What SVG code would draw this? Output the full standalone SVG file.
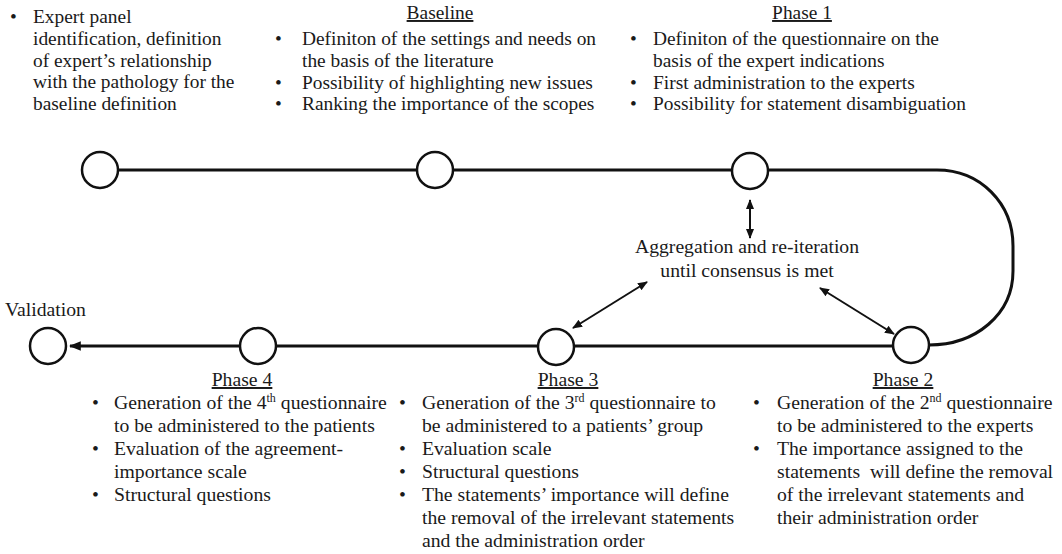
<svg xmlns="http://www.w3.org/2000/svg" width="1062" height="554" viewBox="0 0 1062 554" font-family="'Liberation Serif', 'Times New Roman', serif">
  <style>
    text { font-family: "Liberation Serif", "Times New Roman", serif; font-size: 19.4px; fill: #1a1a1a; }
    .lo text { font-size: 19.7px; }
    .head { text-anchor: middle; text-decoration: underline; }
    .mid { text-anchor: middle; }
    .node { fill: #ffffff; stroke: #111111; stroke-width: 2.5; }
    .path { fill: none; stroke: #111111; stroke-width: 3; }
    .dbl { fill: none; stroke: #111111; stroke-width: 2; }
    .sup { font-size: 12px; }
  </style>
  <defs>
    <marker id="tip" viewBox="0 0 10 10" refX="9" refY="5" markerWidth="5" markerHeight="5" orient="auto-start-reverse" markerUnits="strokeWidth">
      <path d="M0,1 L10,5 L0,9 Z" fill="#111111"/>
    </marker>
    <marker id="tipBig" viewBox="0 0 10 10" refX="9" refY="5" markerWidth="4" markerHeight="4" orient="auto" markerUnits="strokeWidth">
      <path d="M0,1 L10,5 L0,9 Z" fill="#111111"/>
    </marker>
  </defs>

  <!-- connectors -->
  <g id="connectors">
    <path class="path" d="M118 170 H416"/>
    <path class="path" d="M453 170 H731"/>
    <path class="path" d="M769 170 H937 C980 170 1013 203 1013 246 V271 C1013 315 975 345 929 345"/>
    <path class="path" d="M893 346 H575"/>
    <path class="path" d="M537 346 H277"/>
    <path class="path" d="M240 346 H70" marker-end="url(#tipBig)"/>
    <path class="dbl" d="M750 200 V238" marker-start="url(#tip)" marker-end="url(#tip)"/>
    <path class="dbl" d="M573 328 L647 282" marker-start="url(#tip)" marker-end="url(#tip)"/>
    <path class="dbl" d="M820 288 L894 334" marker-start="url(#tip)" marker-end="url(#tip)"/>
  </g>

  <!-- start: expert panel -->
  <g id="node-start">
    <circle class="node" cx="100" cy="170" r="18"/>
    <text x="10" y="23">•</text>
    <text x="33" y="23">Expert panel</text>
    <text x="33" y="45">identification, definition</text>
    <text x="33" y="67">of expert’s relationship</text>
    <text x="33" y="88">with the pathology for the</text>
    <text x="33" y="110">baseline definition</text>
  </g>

  <!-- baseline -->
  <g id="node-baseline">
    <circle class="node" cx="435" cy="170" r="18"/>
    <text class="head" x="440" y="19">Baseline</text>
    <text x="275" y="45">•</text>
    <text x="302" y="45">Definiton of the settings and needs on</text>
    <text x="302" y="67">the basis of the literature</text>
    <text x="275" y="89">•</text>
    <text x="302" y="89">Possibility of highlighting new issues</text>
    <text x="275" y="110">•</text>
    <text x="302" y="110">Ranking the importance of the scopes</text>
  </g>

  <!-- phase 1 -->
  <g id="node-phase1">
    <circle class="node" cx="750" cy="171" r="18"/>
    <text class="head" x="802" y="19">Phase 1</text>
    <text x="630" y="45">•</text>
    <text x="653" y="45">Definiton of the questionnaire on the</text>
    <text x="653" y="67">basis of the expert indications</text>
    <text x="630" y="89">•</text>
    <text x="653" y="89">First administration to the experts</text>
    <text x="630" y="110">•</text>
    <text x="653" y="110">Possibility for statement disambiguation</text>
  </g>

  <g class="lo">
    <!-- aggregation -->
    <g id="node-aggregation">
      <text class="mid" x="747" y="253">Aggregation and re-iteration</text>
      <text class="mid" x="747" y="277">until consensus is met</text>
    </g>

    <!-- phase 2 -->
    <g id="node-phase2">
      <circle class="node" cx="911" cy="345" r="18"/>
      <text class="head" x="903" y="386">Phase 2</text>
      <text x="753" y="409">•</text>
      <text x="777" y="409">Generation of the 2<tspan class="sup" dy="-7">nd</tspan><tspan dy="7"> questionnaire</tspan></text>
      <text x="777" y="432">to be administered to the experts</text>
      <text x="753" y="455">•</text>
      <text x="777" y="455">The importance assigned to the</text>
      <text x="777" y="478" xml:space="preserve">statements  will define the removal</text>
      <text x="777" y="501">of the irrelevant statements and</text>
      <text x="777" y="524">their administration order</text>
    </g>

    <!-- phase 3 -->
    <g id="node-phase3">
      <circle class="node" cx="556" cy="347" r="18"/>
      <text class="head" x="568" y="386">Phase 3</text>
      <text x="399" y="409">•</text>
      <text x="422" y="409">Generation of the 3<tspan class="sup" dy="-7">rd</tspan><tspan dy="7"> questionnaire to</tspan></text>
      <text x="422" y="432">be administered to a patients’ group</text>
      <text x="399" y="455">•</text>
      <text x="422" y="455">Evaluation scale</text>
      <text x="399" y="478">•</text>
      <text x="422" y="478">Structural questions</text>
      <text x="399" y="501">•</text>
      <text x="422" y="501">The statements’ importance will define</text>
      <text x="422" y="524">the removal of the irrelevant statements</text>
      <text x="422" y="547">and the administration order</text>
    </g>

    <!-- phase 4 -->
    <g id="node-phase4">
      <circle class="node" cx="258" cy="346" r="18"/>
      <text class="head" x="242" y="386">Phase 4</text>
      <text x="92" y="409">•</text>
      <text x="114" y="409">Generation of the 4<tspan class="sup" dy="-7">th</tspan><tspan dy="7"> questionnaire</tspan></text>
      <text x="114" y="432">to be administered to the patients</text>
      <text x="92" y="455">•</text>
      <text x="114" y="455">Evaluation of the agreement-</text>
      <text x="114" y="478">importance scale</text>
      <text x="92" y="501">•</text>
      <text x="114" y="501">Structural questions</text>
    </g>

    <!-- validation -->
    <g id="node-validation">
      <circle class="node" cx="48" cy="346" r="18"/>
      <text x="5" y="316">Validation</text>
    </g>
  </g>
</svg>
